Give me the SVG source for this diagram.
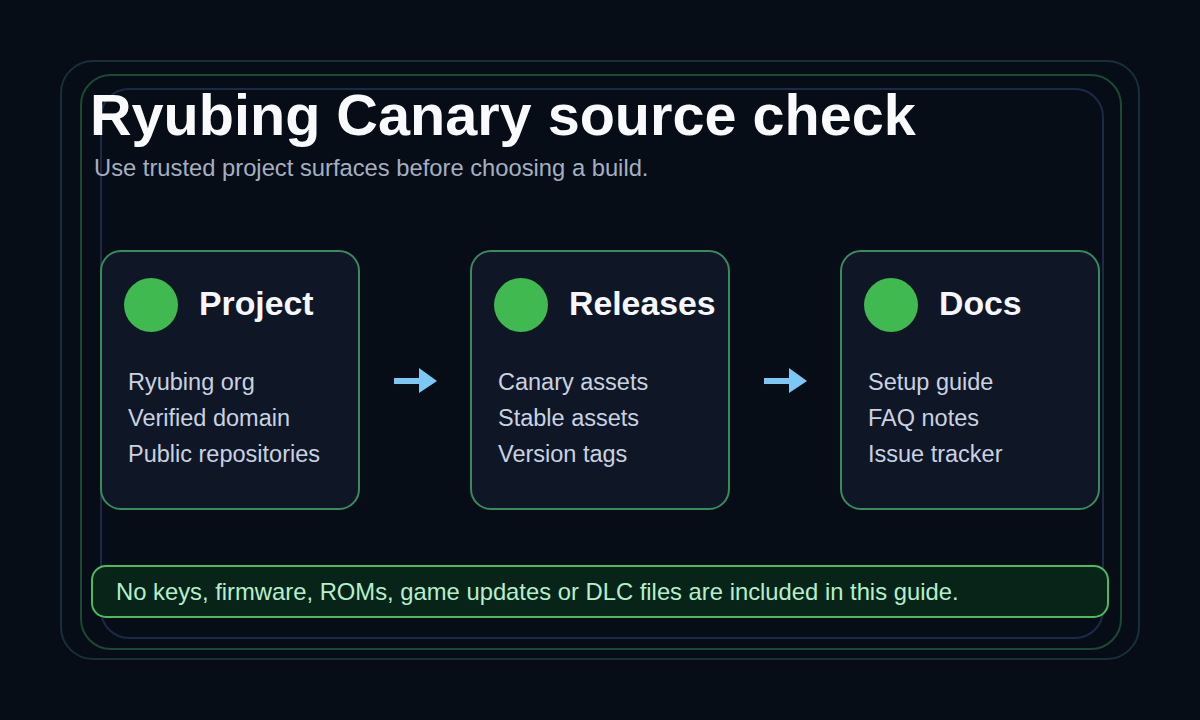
<svg xmlns="http://www.w3.org/2000/svg" width="1200" height="720" viewBox="0 0 1200 720">
  <style>
    .frame { fill: none; stroke-width: 2; }
    .card { fill: #0f1727; stroke: #3b8a5c; stroke-width: 2; }
    .dot { fill: #3fb950; }
    .card-title { font-family: "Liberation Sans", Arial, sans-serif; font-size: 33.8px; font-weight: bold; fill: #f5f7fb; }
    .card-line { font-family: "Liberation Sans", Arial, sans-serif; font-size: 23.5px; fill: #c9d2e0; }
    .arrow { fill: #7cc8f5; }
  </style>
  <rect width="1200" height="720" fill="#070d17"/>

  <!-- nested frames -->
  <rect class="frame" x="61" y="61" width="1078" height="598" rx="32" stroke="#16303a"/>
  <rect class="frame" x="81" y="75" width="1040" height="574" rx="30" stroke="#1b4a30"/>
  <rect class="frame" x="101" y="89" width="1002" height="549" rx="28" stroke="#1c2a48"/>

  <!-- heading -->
  <text x="90" y="135" font-family="Liberation Sans, Arial, sans-serif" font-size="57.6" font-weight="bold" fill="#f8fafc">Ryubing Canary source check</text>
  <text x="94" y="176" font-family="Liberation Sans, Arial, sans-serif" font-size="23.75" fill="#a3b0c2">Use trusted project surfaces before choosing a build.</text>

  <!-- connectors -->
  <g id="connectors">
    <path class="arrow" d="M394 378 H419 V368 L437 381 L419 393 V384 H394 Z"/>
    <path class="arrow" d="M764 378 H789 V368 L807 381 L789 393 V384 H764 Z"/>
  </g>

  <g id="node-project">
    <rect class="card" x="101" y="251" width="258" height="258" rx="20"/>
    <circle class="dot" cx="151" cy="305" r="27"/>
    <text class="card-title" x="199" y="315">Project</text>
    <text class="card-line" x="128" y="390">Ryubing org</text>
    <text class="card-line" x="128" y="426">Verified domain</text>
    <text class="card-line" x="128" y="462">Public repositories</text>
  </g>

  <g id="node-releases">
    <rect class="card" x="471" y="251" width="258" height="258" rx="20"/>
    <circle class="dot" cx="521" cy="305" r="27"/>
    <text class="card-title" x="569" y="315">Releases</text>
    <text class="card-line" x="498" y="390">Canary assets</text>
    <text class="card-line" x="498" y="426">Stable assets</text>
    <text class="card-line" x="498" y="462">Version tags</text>
  </g>

  <g id="node-docs">
    <rect class="card" x="841" y="251" width="258" height="258" rx="20"/>
    <circle class="dot" cx="891" cy="305" r="27"/>
    <text class="card-title" x="939" y="315">Docs</text>
    <text class="card-line" x="868" y="390">Setup guide</text>
    <text class="card-line" x="868" y="426">FAQ notes</text>
    <text class="card-line" x="868" y="462">Issue tracker</text>
  </g>

  <g id="notice">
    <rect x="92" y="566" width="1016" height="51" rx="14" fill="#082419" stroke="#4cbb5e" stroke-width="2"/>
    <text x="116" y="600" font-family="Liberation Sans, Arial, sans-serif" font-size="23.8" fill="#b6efc9">No keys, firmware, ROMs, game updates or DLC files are included in this guide.</text>
  </g>
</svg>
